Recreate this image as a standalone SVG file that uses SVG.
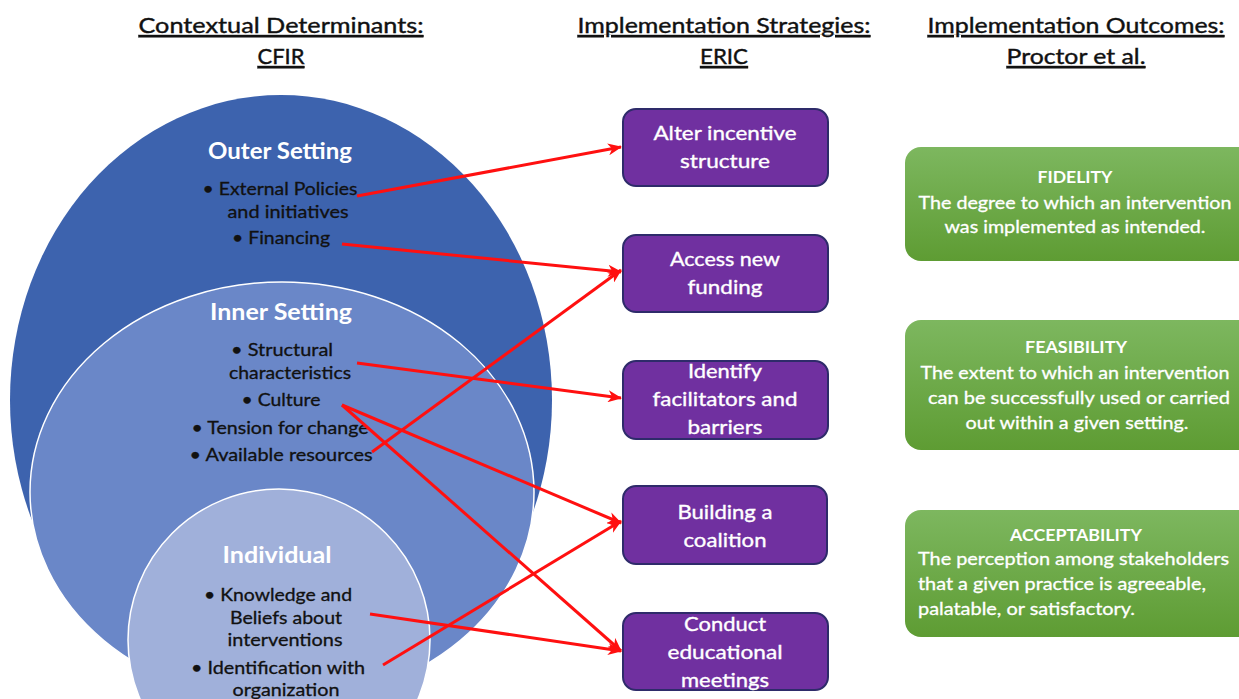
<svg xmlns="http://www.w3.org/2000/svg" width="1239" height="699" viewBox="0 0 1239 699">
  <style>
    text { font-family: Lato, "Open Sans", "Liberation Sans", sans-serif; }
    .hdr { font-size: 22px; fill: #111; stroke: #111; stroke-width: 0.4; text-anchor: middle; text-decoration: underline; }
    .lvl { font-size: 22px; font-weight: bold; fill: #fff; text-anchor: middle; }
    .item { font-size: 17px; fill: #111; stroke: #111; stroke-width: 0.3; text-anchor: middle; }
    .strat-box { fill: #7030A0; stroke: #2E2B6A; stroke-width: 2; }
    .strat { font-size: 20px; fill: #fff; stroke: #fff; stroke-width: 0.35; text-anchor: middle; }
    .out-box { fill: url(#greenGrad); }
    .out-title { font-size: 17px; font-weight: bold; fill: #fff; text-anchor: middle; }
    .out-text { font-size: 17px; fill: #fff; stroke: #fff; stroke-width: 0.3; }
    .link { stroke: #FF1010; stroke-width: 3; fill: none; marker-end: url(#arrow); }
  </style>
  <defs>
    <linearGradient id="greenGrad" x1="0" y1="0" x2="0" y2="1">
      <stop offset="0" stop-color="#7DB75F"/>
      <stop offset="1" stop-color="#5E9C33"/>
    </linearGradient>
    <marker id="arrow" markerUnits="userSpaceOnUse" viewBox="0 0 14 12" markerWidth="14" markerHeight="12" refX="13" refY="6" orient="auto">
      <path d="M0,0 L14,6 L0,12 L4,6 z" fill="#FF1010"/>
    </marker>
  </defs>

  <rect width="1239" height="699" fill="#fff"/>

  <!-- column headings -->
  <g id="headings">
    <text class="hdr" x="281" y="33" textLength="285" lengthAdjust="spacingAndGlyphs">Contextual Determinants:</text>
    <text class="hdr" x="281" y="64" textLength="47" lengthAdjust="spacingAndGlyphs">CFIR</text>
    <text class="hdr" x="724" y="33" textLength="293" lengthAdjust="spacingAndGlyphs">Implementation Strategies:</text>
    <text class="hdr" x="724" y="64" textLength="48" lengthAdjust="spacingAndGlyphs">ERIC</text>
    <text class="hdr" x="1076" y="33" textLength="297" lengthAdjust="spacingAndGlyphs">Implementation Outcomes:</text>
    <text class="hdr" x="1076" y="64" textLength="139" lengthAdjust="spacingAndGlyphs">Proctor et al.</text>
  </g>

  <!-- nested CFIR domains -->
  <g id="outer-setting">
    <ellipse cx="281" cy="400" rx="271" ry="305" fill="#3D63AE"/>
    <text class="lvl" x="280" y="159" textLength="144" lengthAdjust="spacingAndGlyphs">Outer Setting</text>
    <text class="item" x="280" y="195" textLength="155" lengthAdjust="spacingAndGlyphs">• External Policies</text>
    <text class="item" x="288" y="218" textLength="121" lengthAdjust="spacingAndGlyphs">and initiatives</text>
    <text class="item" x="281" y="244" textLength="98" lengthAdjust="spacingAndGlyphs">• Financing</text>
  </g>
  <g id="inner-setting">
    <ellipse cx="282" cy="492" rx="252" ry="210" fill="#6A87C8" stroke="#fff" stroke-width="1.5"/>
    <text class="lvl" x="281" y="320" textLength="142" lengthAdjust="spacingAndGlyphs">Inner Setting</text>
    <text class="item" x="282" y="356" textLength="102" lengthAdjust="spacingAndGlyphs">• Structural</text>
    <text class="item" x="290" y="379" textLength="122" lengthAdjust="spacingAndGlyphs">characteristics</text>
    <text class="item" x="281" y="406" textLength="79" lengthAdjust="spacingAndGlyphs">• Culture</text>
    <text class="item" x="280" y="434" textLength="177" lengthAdjust="spacingAndGlyphs">• Tension for change</text>
    <text class="item" x="281" y="461" textLength="183" lengthAdjust="spacingAndGlyphs">• Available resources</text>
  </g>
  <g id="individual">
    <circle cx="279" cy="640" r="151" fill="#A0B0DA" stroke="#fff" stroke-width="1.5"/>
    <text class="lvl" x="277" y="563" textLength="109" lengthAdjust="spacingAndGlyphs">Individual</text>
    <text class="item" x="278" y="601" textLength="148" lengthAdjust="spacingAndGlyphs">• Knowledge and</text>
    <text class="item" x="286" y="624" textLength="112" lengthAdjust="spacingAndGlyphs">Beliefs about</text>
    <text class="item" x="285" y="646" textLength="115" lengthAdjust="spacingAndGlyphs">interventions</text>
    <text class="item" x="278" y="674" textLength="174" lengthAdjust="spacingAndGlyphs">• Identification with</text>
    <text class="item" x="286" y="696" textLength="107" lengthAdjust="spacingAndGlyphs">organization</text>
  </g>

  <!-- ERIC strategies -->
  <g id="alter-incentive">
    <rect class="strat-box" x="623" y="109" width="205" height="77" rx="13"/>
    <text class="strat" x="725" y="140" textLength="143" lengthAdjust="spacingAndGlyphs">Alter incentive</text>
    <text class="strat" x="725" y="168" textLength="90" lengthAdjust="spacingAndGlyphs">structure</text>
  </g>
  <g id="access-funding">
    <rect class="strat-box" x="623" y="235" width="205" height="77" rx="13"/>
    <text class="strat" x="725" y="266" textLength="110" lengthAdjust="spacingAndGlyphs">Access new</text>
    <text class="strat" x="725" y="294" textLength="75" lengthAdjust="spacingAndGlyphs">funding</text>
  </g>
  <g id="identify-facilitators">
    <rect class="strat-box" x="623" y="361" width="205" height="78" rx="13"/>
    <text class="strat" x="725" y="378" textLength="74" lengthAdjust="spacingAndGlyphs">Identify</text>
    <text class="strat" x="725" y="406" textLength="145" lengthAdjust="spacingAndGlyphs">facilitators and</text>
    <text class="strat" x="725" y="434" textLength="75" lengthAdjust="spacingAndGlyphs">barriers</text>
  </g>
  <g id="building-coalition">
    <rect class="strat-box" x="623" y="486" width="204" height="78" rx="13"/>
    <text class="strat" x="725" y="519" textLength="95" lengthAdjust="spacingAndGlyphs">Building a</text>
    <text class="strat" x="725" y="547" textLength="83" lengthAdjust="spacingAndGlyphs">coalition</text>
  </g>
  <g id="educational-meetings">
    <rect class="strat-box" x="623" y="613" width="205" height="77" rx="13"/>
    <text class="strat" x="725" y="631" textLength="82" lengthAdjust="spacingAndGlyphs">Conduct</text>
    <text class="strat" x="725" y="659" textLength="115" lengthAdjust="spacingAndGlyphs">educational</text>
    <text class="strat" x="725" y="687" textLength="88" lengthAdjust="spacingAndGlyphs">meetings</text>
  </g>

  <!-- Proctor outcomes -->
  <g id="fidelity">
    <rect class="out-box" x="905" y="147" width="350" height="114" rx="16"/>
    <text class="out-title" x="1075" y="183" textLength="75" lengthAdjust="spacingAndGlyphs">FIDELITY</text>
    <text class="out-text" x="1075" y="209" text-anchor="middle" textLength="313" lengthAdjust="spacingAndGlyphs">The degree to which an intervention</text>
    <text class="out-text" x="1075" y="233" text-anchor="middle" textLength="261" lengthAdjust="spacingAndGlyphs">was implemented as intended.</text>
  </g>
  <g id="feasibility">
    <rect class="out-box" x="905" y="320" width="350" height="130" rx="16"/>
    <text class="out-title" x="1076" y="353" textLength="102" lengthAdjust="spacingAndGlyphs">FEASIBILITY</text>
    <text class="out-text" x="1075" y="379" text-anchor="middle" textLength="309" lengthAdjust="spacingAndGlyphs">The extent to which an intervention</text>
    <text class="out-text" x="1079" y="404" text-anchor="middle" textLength="302" lengthAdjust="spacingAndGlyphs">can be successfully used or carried</text>
    <text class="out-text" x="1077" y="429" text-anchor="middle" textLength="223" lengthAdjust="spacingAndGlyphs">out within a given setting.</text>
  </g>
  <g id="acceptability">
    <rect class="out-box" x="905" y="510" width="350" height="127" rx="16"/>
    <text class="out-title" x="1076" y="541" textLength="132" lengthAdjust="spacingAndGlyphs">ACCEPTABILITY</text>
    <text class="out-text" x="918" y="565" textLength="311" lengthAdjust="spacingAndGlyphs">The perception among stakeholders</text>
    <text class="out-text" x="918" y="590" textLength="288" lengthAdjust="spacingAndGlyphs">that a given practice is agreeable,</text>
    <text class="out-text" x="918" y="615" textLength="217" lengthAdjust="spacingAndGlyphs">palatable, or satisfactory.</text>
  </g>

  <!-- determinant-to-strategy links -->
  <g id="connectors">
    <line class="link" x1="357" y1="196" x2="621" y2="147"/>
    <line class="link" x1="342" y1="244" x2="621" y2="272"/>
    <line class="link" x1="357" y1="363" x2="621" y2="398"/>
    <line class="link" x1="372" y1="452" x2="621" y2="270"/>
    <line class="link" x1="342" y1="405" x2="621" y2="523"/>
    <line class="link" x1="342" y1="405" x2="621" y2="651"/>
    <line class="link" x1="370" y1="614" x2="621" y2="651"/>
    <line class="link" x1="383" y1="665" x2="621" y2="521"/>
  </g>
</svg>
